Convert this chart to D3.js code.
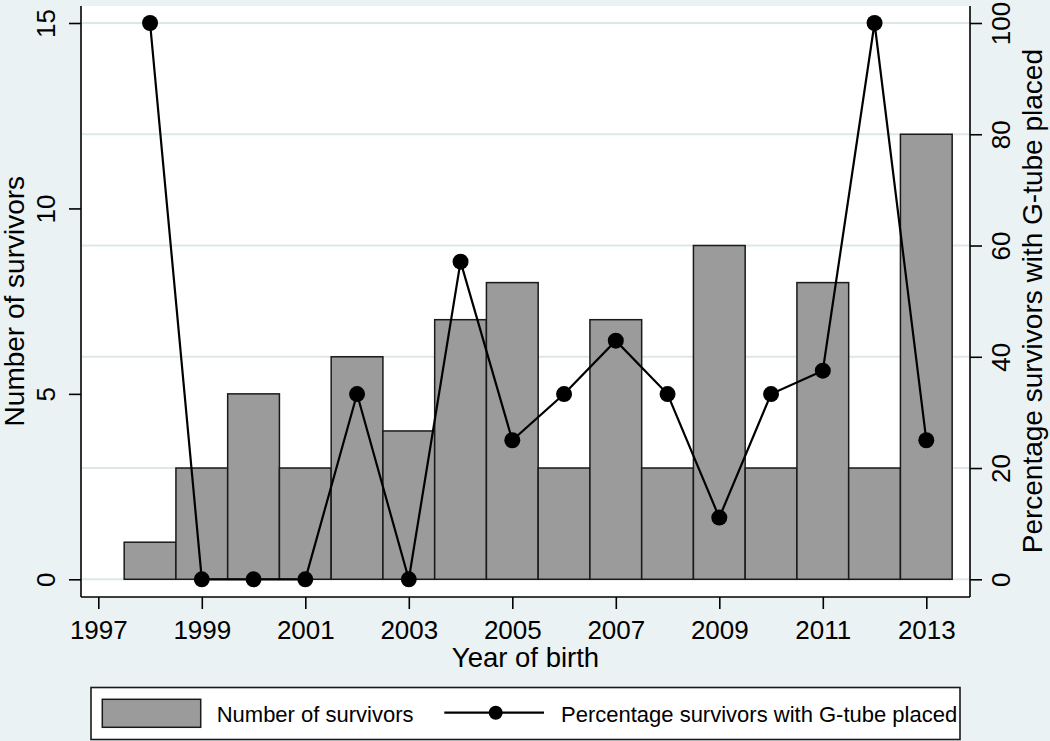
<!DOCTYPE html>
<html>
<head>
<meta charset="utf-8">
<script src="https://cdn.jsdelivr.net/npm/d3@7"></script>
<style>
  html, body { margin: 0; padding: 0; background: #eaf2f3; }
  svg { display: block; font-family: "Liberation Sans", Arial, sans-serif; }
</style>
</head>
<body>
<script>
// Data.
const years = [1998, 1999, 2000, 2001, 2002, 2003, 2004, 2005, 2006, 2007, 2008, 2009, 2010, 2011, 2012, 2013];
const survivors = [1, 3, 5, 3, 6, 4, 7, 8, 3, 7, 3, 9, 3, 8, 3, 12];
const pctGtube = [100, 0, 0, 0, 33.3, 0, 57.1, 25, 33.3, 42.9, 33.3, 11.1, 33.3, 37.5, 100, 25];
const xTicks = [1997, 1999, 2001, 2003, 2005, 2007, 2009, 2011, 2013];
const leftTicks = [0, 5, 10, 15];
const rightTicks = [0, 20, 40, 60, 80, 100];

const width = 1050, height = 741;
// Plot region (Stata style: white plot area on a bluish-gray graph region)
const plot = {left: 81, right: 970, top: 6, bottom: 597};

const svg = d3.select("body").append("svg")
  .attr("width", width)
  .attr("height", height);

svg.append("rect")
  .attr("width", width).attr("height", height)
  .attr("fill", "#eaf2f3");

svg.append("rect")
  .attr("x", plot.left).attr("y", plot.top)
  .attr("width", plot.right - plot.left).attr("height", plot.bottom - plot.top)
  .attr("fill", "#ffffff");

// Scales
const x = d3.scaleLinear().domain([1997, 2013]).range([98.3, 926.3]);
const yLeft = d3.scaleLinear().domain([0, 15]).range([579.3, 23]);
const yRight = d3.scaleLinear().domain([0, 100]).range([579.3, 23]);

// Grid lines follow the right-hand axis
svg.append("g")
  .selectAll("line")
  .data(rightTicks)
  .enter().append("line")
  .attr("x1", plot.left + 1).attr("x2", plot.right - 1)
  .attr("y1", d => yRight(d)).attr("y2", d => yRight(d))
  .attr("stroke", "#dde7ea")
  .attr("stroke-width", 2);

// Bars: one year wide, centred on the year
svg.append("g")
  .selectAll("rect")
  .data(years)
  .enter().append("rect")
  .attr("x", d => x(d - 0.5))
  .attr("width", d => x(d + 0.5) - x(d - 0.5))
  .attr("y", (d, i) => yLeft(survivors[i]))
  .attr("height", (d, i) => yLeft(0) - yLeft(survivors[i]))
  .attr("fill", "#9b9b9b")
  .attr("stroke", "#1a1a1a")
  .attr("stroke-width", 1.5);

// Percentage line with markers
const line = d3.line()
  .x((d, i) => x(years[i]))
  .y(d => yRight(d));

svg.append("path")
  .datum(pctGtube)
  .attr("d", line)
  .attr("fill", "none")
  .attr("stroke", "#000")
  .attr("stroke-width", 2.2);

svg.append("g")
  .selectAll("circle")
  .data(pctGtube)
  .enter().append("circle")
  .attr("cx", (d, i) => x(years[i]))
  .attr("cy", d => yRight(d))
  .attr("r", 8)
  .attr("fill", "#000");

// Axis lines (left, bottom, right)
const frame = svg.append("g").attr("stroke", "#000").attr("stroke-width", 1.6);
frame.append("line").attr("x1", plot.left).attr("x2", plot.left).attr("y1", plot.top).attr("y2", plot.bottom);
frame.append("line").attr("x1", plot.right).attr("x2", plot.right).attr("y1", plot.top).attr("y2", plot.bottom);
frame.append("line").attr("x1", plot.left).attr("x2", plot.right).attr("y1", plot.bottom).attr("y2", plot.bottom);

// Axes
const tickFont = 26;

const gLeft = svg.append("g")
  .attr("transform", `translate(${plot.left},0)`)
  .call(d3.axisLeft(yLeft).tickValues(leftTicks).tickSize(12).tickSizeOuter(0));
gLeft.select(".domain").remove();
gLeft.selectAll("text")
  .attr("x", null).attr("dy", null)
  .attr("text-anchor", "middle")
  .attr("transform", "translate(-26,0) rotate(-90)");

const gRight = svg.append("g")
  .attr("transform", `translate(${plot.right},0)`)
  .call(d3.axisRight(yRight).tickValues(rightTicks).tickSize(12).tickSizeOuter(0));
gRight.select(".domain").remove();
gRight.selectAll("text")
  .attr("x", null).attr("dy", null)
  .attr("text-anchor", "middle")
  .attr("transform", "translate(40,0) rotate(-90)");

const gBottom = svg.append("g")
  .attr("transform", `translate(0,${plot.bottom})`)
  .call(d3.axisBottom(x).tickValues(xTicks).tickFormat(d3.format("d")).tickSize(12).tickSizeOuter(0));
gBottom.select(".domain").remove();
gBottom.selectAll("text")
  .attr("y", 41.6).attr("dy", null);

[gLeft, gRight, gBottom].forEach(g => {
  g.attr("font-family", null).attr("font-size", null);
  g.selectAll("line").attr("stroke", "#000").attr("stroke-width", 1.6);
  g.selectAll("text").attr("fill", "#000").style("font-size", tickFont + "px");
});

// Axis titles
svg.append("text")
  .attr("transform", `translate(23.5,${(yLeft(0) + yLeft(15)) / 2}) rotate(-90)`)
  .attr("text-anchor", "middle")
  .style("font-size", "28px")
  .text("Number of survivors");

svg.append("text")
  .attr("transform", `translate(1041.5,${(yRight(0) + yRight(100)) / 2}) rotate(-90)`)
  .attr("text-anchor", "middle")
  .style("font-size", "28px")
  .text("Percentage survivors with G-tube placed");

svg.append("text")
  .attr("x", (plot.left + plot.right) / 2)
  .attr("y", 666.7)
  .attr("text-anchor", "middle")
  .style("font-size", "27.5px")
  .text("Year of birth");

// Legend
const legend = svg.append("g");
legend.append("rect")
  .attr("x", 91).attr("y", 687.5)
  .attr("width", 869).attr("height", 52)
  .attr("fill", "#fff")
  .attr("stroke", "#1a1a1a")
  .attr("stroke-width", 1.6);

legend.append("rect")
  .attr("x", 102.3).attr("y", 699.3)
  .attr("width", 98.4).attr("height", 28)
  .attr("fill", "#9b9b9b")
  .attr("stroke", "#1a1a1a")
  .attr("stroke-width", 1.5);

legend.append("text")
  .attr("x", 216.7).attr("y", 722.3)
  .style("font-size", "22px")
  .text("Number of survivors");

legend.append("line")
  .attr("x1", 444.3).attr("x2", 544)
  .attr("y1", 712.7).attr("y2", 712.7)
  .attr("stroke", "#000").attr("stroke-width", 2.2);

legend.append("circle")
  .attr("cx", 495.7).attr("cy", 712.7).attr("r", 7)
  .attr("fill", "#000");

legend.append("text")
  .attr("x", 561).attr("y", 722.3)
  .style("font-size", "22px")
  .text("Percentage survivors with G-tube placed");
</script>
</body>
</html>
